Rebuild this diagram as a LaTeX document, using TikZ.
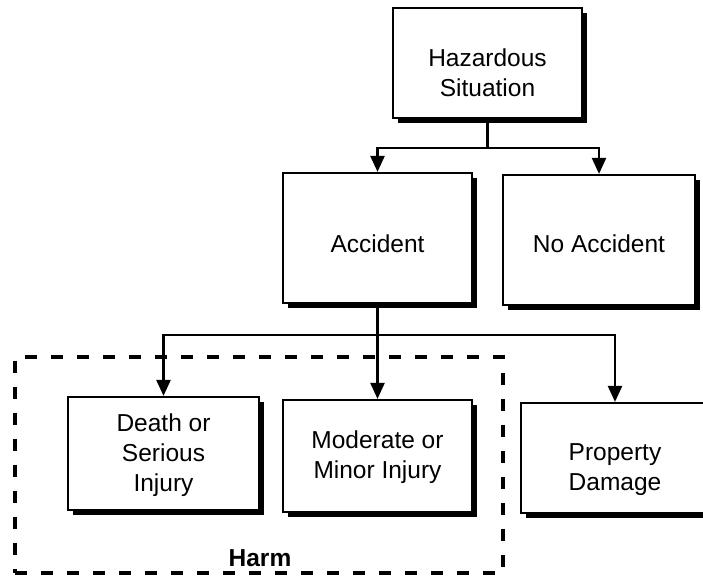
\documentclass[tikz,border=0pt]{standalone}
\usepackage{fontspec}
\setmainfont{Liberation Sans}
\usetikzlibrary{arrows.meta,shadows}
\begin{document}
\begin{tikzpicture}[x=1pt,y=-1pt,
  box/.style={draw=black,line width=2.2pt,fill=white,inner sep=0pt,
    drop shadow={shadow xshift=4.5pt,shadow yshift=-4.5pt,fill=black,opacity=1}},
  txt/.style={align=center,inner sep=0pt,font=\fontsize{24.5}{30}\selectfont},
  conn/.style={line width=2.4pt},
  arr/.style={line width=2.4pt,-{Triangle[length=16pt,width=14pt]}},
  harmbox/.style={draw=black,line width=4pt,dash pattern=on 12pt off 14pt,inner sep=0pt}]
\useasboundingbox (0,0) rectangle (703,584);
\fill[white] (0,0) rectangle (703,584);
% dashed harm region
\node[harmbox,minimum width=488pt,minimum height=216pt] (harmregion) at (259,464.5) {};
\node[txt,font=\fontsize{24.5}{30}\selectfont\bfseries,anchor=base] (harm) at (260,566) {Harm};
% boxes
\node[box,minimum width=189pt,minimum height=110pt] (haz) at (487.5,63) {};
\node[txt] (hazt) at (487.5,73) {Hazardous\\Situation};
\node[box,minimum width=189pt,minimum height=130pt] (acc) at (377.5,238) {};
\node[txt] (acct) at (377.5,244) {Accident};
\node[box,minimum width=192pt,minimum height=130pt] (noacc) at (599,240) {};
\node[txt] (noacct) at (599,244) {No Accident};
\node[box,minimum width=191pt,minimum height=113pt] (death) at (163.5,453.5) {};
\node[txt] (deatht) at (163.5,455) {Death or\\Serious\\Injury};
\node[box,minimum width=189pt,minimum height=112pt] (mod) at (377.5,456) {};
\node[txt] (modt) at (377.5,457) {Moderate or\\Minor Injury};
\node[box,minimum width=188pt,minimum height=110pt] (prop) at (615,458) {};
\node[txt] (propt) at (615,470) {Property\\Damage};
% connectors
\coordinate (j1) at (haz.south |- 0,148);
\draw[conn] (haz.south) -- (j1);
\draw[arr] (j1) -| (acc.north);
\draw[arr] (j1) -| (noacc.north);
\coordinate (j2) at (acc.south |- 0,335);
\draw[arr] (acc.south) -- (mod.north);
\draw[arr] (j2) -| (death.north);
\draw[arr] (j2) -| (prop.north);
\end{tikzpicture}
\end{document}
